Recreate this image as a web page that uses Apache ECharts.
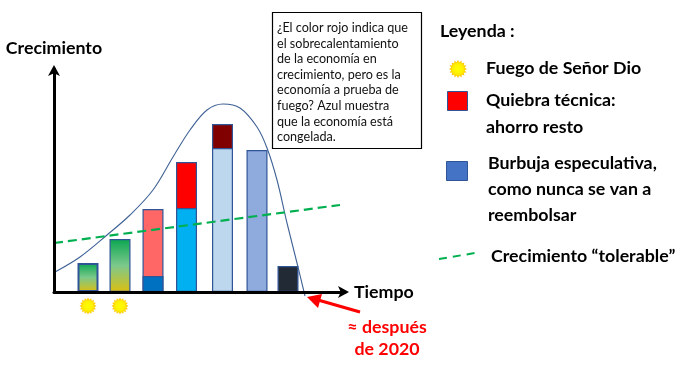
<!DOCTYPE html>
<html>
<head>
<meta charset="utf-8">
<style>html,body{margin:0;padding:0;background:#fff}#c{width:687px;height:365px}</style>
<script src="https://cdn.jsdelivr.net/npm/echarts@6/dist/echarts.min.js"></script>
</head>
<body>
<div id="c"></div>
<script>
const barTime = [34, 66, 99, 132.5, 168.5, 203, 234];
const barLower = [29, 53, 16, 84, 144, 142, 26];
const barTotal = [null, null, 83, 130, 168, null, null];
const lowerColors = ['grad', 'grad', '#0070c0', '#00b0f0', '#bdd7ee', '#8faadc', '#222a35'];
const upperColors = [null, null, '#ff6666', '#ff0000', '#800000', null, null];
const curveTime = [1, 26, 53, 76, 99, 119, 136, 153, 169, 186, 203, 213, 223, 233, 243, 251];
const curveValue = [20, 35, 57, 77, 102, 135, 162, 182, 188, 184, 165, 144, 112, 69, 29, -4];
const trendTime = [0, 286];
const trendValue = [49, 87];
const fireTime = [34, 66];
const fireValue = [-14, -14];
const noteLines = ['¿El color rojo indica que', 'el sobrecalentamiento', 'de la economía en', 'crecimiento, pero es la', 'economía a prueba de', 'fuego? Azul muestra', 'que la economía está', 'congelada.'];

function sunPoints(cx, cy, R) {
  const pts = [];
  const n = 16;
  for (let i = 0; i < n * 2; i++) {
    const r = (i % 2 ? 0.76 : 1) * R;
    const a = Math.PI * i / n;
    pts.push([cx + r * Math.cos(a), cy + r * Math.sin(a)]);
  }
  return pts;
}
function sunPath() {
  return sunPoints(50, 50, 50).map((p, i) => (i ? 'L' : 'M') + p[0].toFixed(1) + ' ' + p[1].toFixed(1)).join('') + 'Z';
}
const sunFill = {type: 'radial', x: 0.5, y: 0.5, r: 0.5, colorStops: [
  {offset: 0, color: '#ffff00'}, {offset: 0.6, color: '#ffee00'}, {offset: 1, color: '#ffb000'}]};
const greenYellow = {type: 'linear', x: 0, y: 0, x2: 0, y2: 1, colorStops: [
  {offset: 0, color: '#0aa650'}, {offset: 0.5, color: '#7cc98c'}, {offset: 1, color: '#dcbe10'}]};
const font = 'Lato, Carlito, sans-serif';
const edge = '#2f5597';
const boldText = (x, y, text, extra) => ({type: 'text', z: 20, x, y, style: Object.assign({
  text, font: 'bold 17.8px ' + font, fill: '#000', textVerticalAlign: 'middle'}, extra || {})});
const swatch = (x, y, w, h, fill) => ({type: 'rect', z: 20, shape: {x, y, width: w, height: h},
  style: {fill, stroke: edge, lineWidth: 1}});

const chart = echarts.init(document.getElementById('c'), null, {renderer: 'canvas'});
chart.setOption({
  animation: false,
  backgroundColor: '#fff',
  grid: {left: 54, top: 69, width: 291, height: 223, containLabel: false},
  xAxis: {
    type: 'value', min: 0, max: 291, z: 6,
    name: 'Tiempo', nameLocation: 'end', nameGap: 9,
    nameTextStyle: {fontFamily: font, fontWeight: 'bold', fontSize: 17.8, color: '#000'},
    axisLine: {onZero: false, symbol: ['none', 'arrow'], symbolSize: [9, 11], symbolOffset: [0, 4], lineStyle: {color: '#000', width: 3}},
    axisTick: {show: false}, axisLabel: {show: false}, splitLine: {show: false}
  },
  yAxis: {
    type: 'value', min: 0, max: 223, z: 6,
    name: 'Crecimiento', nameLocation: 'end', nameGap: 12,
    nameTextStyle: {fontFamily: font, fontWeight: 'bold', fontSize: 17.8, color: '#000'},
    axisLine: {onZero: false, symbol: ['none', 'arrow'], symbolSize: [9, 11], symbolOffset: [0, 4], lineStyle: {color: '#000', width: 3}},
    axisTick: {show: false}, axisLabel: {show: false}, splitLine: {show: false}
  },
  series: [
    {
      type: 'bar', barWidth: 21, barGap: '-100%', z: 2,
      data: barTime.map((t, i) => ({
        value: [t, barTotal[i]],
        itemStyle: {color: upperColors[i] || 'transparent', borderColor: edge, borderWidth: 1.2}
      }))
    },
    {
      type: 'bar', barWidth: 21, barGap: '-100%', z: 3,
      data: barTime.map((t, i) => ({
        value: [t, barLower[i]],
        itemStyle: {
          color: lowerColors[i] === 'grad' ? greenYellow : lowerColors[i],
          borderColor: edge, borderWidth: i === 0 ? 2 : 1.2
        }
      }))
    },
    {
      type: 'line', z: 4, clip: false, smooth: 0.35, showSymbol: false, symbol: 'none',
      lineStyle: {color: '#3f6296', width: 1.1},
      data: curveTime.map((t, i) => [t, curveValue[i]])
    },
    {
      type: 'line', z: 5, clip: false, showSymbol: false, symbol: 'none',
      lineStyle: {color: '#00b050', width: 2.2, type: [9, 5]},
      data: trendTime.map((t, i) => [t, trendValue[i]])
    },
    {
      type: 'scatter', z: 5, clip: false, symbol: 'path://' + sunPath(), symbolSize: 17,
      itemStyle: {color: sunFill, opacity: 1},
      data: fireTime.map((t, i) => [t, fireValue[i]])
    }
  ],
  graphic: [
    {type: 'rect', z: 20, shape: {x: 272.5, y: 12.5, width: 149, height: 136}, style: {fill: '#fff', stroke: '#000', lineWidth: 1.2}},
    ...noteLines.map((t, i) => ({type: 'text', z: 21, x: 277, y: 28 + i * 15.6, style: {
      text: t, font: '12.6px ' + font, fill: '#111', textVerticalAlign: 'middle'}})),
    boldText(440, 31, 'Leyenda :'),
    {type: 'polygon', z: 20, shape: {points: sunPoints(458, 69, 9)}, style: {fill: sunFill}},
    boldText(486, 68, 'Fuego de Señor Dio'),
    swatch(447.5, 91.5, 20, 19, '#ff0000'),
    boldText(486, 100, 'Quiebra técnica:'),
    boldText(486, 127, 'ahorro resto'),
    swatch(446.5, 161.5, 21, 19, '#4472c4'),
    boldText(488, 163, 'Burbuja especulativa,'),
    boldText(488, 189, 'como nunca se van a'),
    boldText(488, 215, 'reembolsar'),
    {type: 'line', z: 20, shape: {x1: 439, y1: 259, x2: 475, y2: 253}, style: {stroke: '#00b050', lineWidth: 2, lineDash: [8, 6]}},
    boldText(491, 256, 'Crecimiento “tolerable”'),
    {type: 'line', z: 20, shape: {x1: 360, y1: 312, x2: 318, y2: 300}, style: {stroke: '#ff0000', lineWidth: 3}},
    {type: 'polygon', z: 20, shape: {points: [[307, 297], [322, 294], [318, 308]]}, style: {fill: '#ff0000'}},
    boldText(387, 327, '≈ después', {fill: '#ff0000', textAlign: 'center'}),
    boldText(387, 349, 'de 2020', {fill: '#ff0000', textAlign: 'center'})
  ]
});
</script>
</body>
</html>
